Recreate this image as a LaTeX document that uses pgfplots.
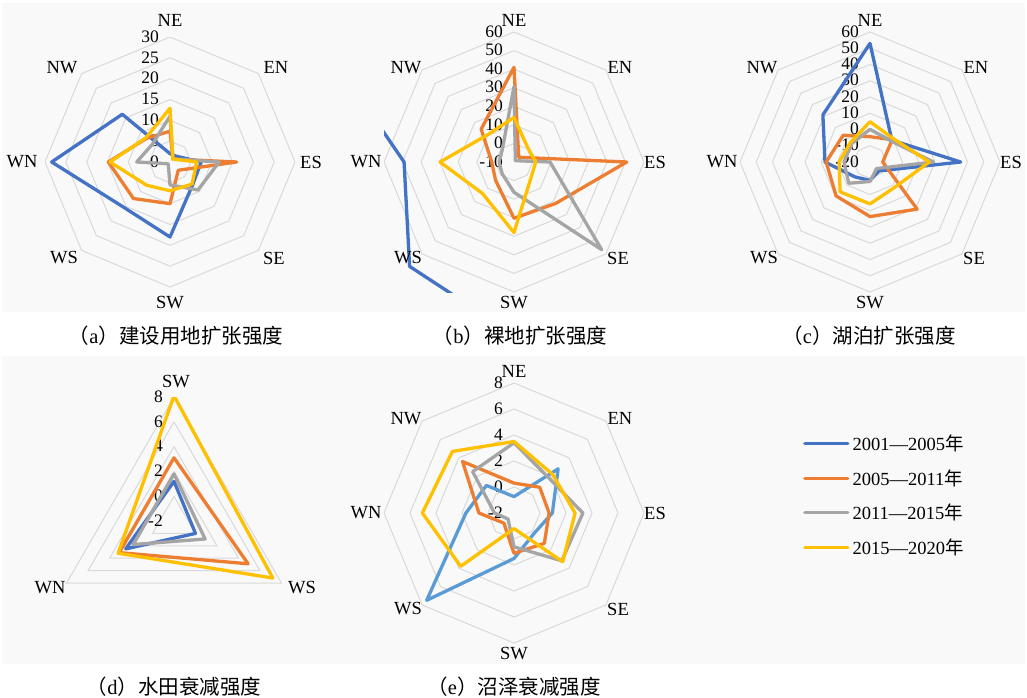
\documentclass[border=0pt]{standalone}
\usepackage{pgfplots}
\pgfplotsset{compat=1.18}
\usepackage{pgfplotstable}
\usepackage{fontspec}
\setmainfont{Liberation Serif}
\newfontfamily\cjk{Noto Sans CJK SC}
\definecolor{cA}{HTML}{4472C4}
\definecolor{cB}{HTML}{ED7D31}
\definecolor{cC}{HTML}{A5A5A5}
\definecolor{cD}{HTML}{FFC000}
\definecolor{cE}{HTML}{5B9BD5}
\definecolor{gridc}{HTML}{D9D9D9}
\definecolor{bgc}{HTML}{F9F9F9}
\newcommand\labfont{\fontsize{18.5}{18.5}\selectfont}
\newcommand\tickfont{\fontsize{17.5}{17.5}\selectfont}
\newcommand\capfont{\fontsize{20.5}{20.5}\selectfont}

\pgfplotstableread{
ang s1 s2 s3 s4
90 2 7.4 11 12.9
45 2 1 1 1
0 7.5 16 11.8 6.4
-45 7.7 2.8 9.5 7.5
-90 18 10 5.5 6.9
-135 15.5 12.4 0.6 7.9
180 28.4 14.8 8 14.4
135 16.2 8 6 8.2
90 2 7.4 11 12.9
}\dA
\pgfplotstableread{
ang s1 s2 s3 s4
90 200 41 30.6 14
45 210 -6.4 -9 0.6
0 200 50.7 9.4 1.7
-45 180 21.6 56.8 2.7
-90 83 20.3 6.3 28
-135 69.5 4 -1 14
180 49.2 2 -2 29.8
135 255 15 -1 10.5
90 200 41 30.6 14
}\dB
\pgfplotstableread{
ang s1 s2 s3 s4
90 53 -4.4 0.1 4.8
45 -1 -0.7 -1.7 0.3
0 35.8 -12.2 19 16.5
-45 -12.2 21 -14.3 1.8
-90 -8.7 13.6 -8 5.8
-135 -7 9.5 -1.5 6
180 7.7 7 -4 -1
135 21 3.3 -4 -3
90 53 -4.4 0.1 4.8
}\dC
\pgfplotstableread{
ang s1 s2 s3 s4
90 1.2 3.1 1.8 8.1
-30 0 4.9 0.9 7.2
210 2.5 3.1 1.8 3.2
90 1.2 3.1 1.8 8.1
}\dD
\pgfplotstableread{
ang s1 s2 s3 s4
90 -0.74 0.3 3.4 3.5
45 2.8 0.8 1.8 2.2
0 0.95 0.7 3.3 2.7
-45 0.2 1.3 3.2 3.3
-90 1.5 1.1 0.6 -0.8
-135 7.5 -0.9 -1.35 3.8
180 1.7 0.7 -0.5 5.05
135 1.0 3.6 2.5 4.7
90 -0.74 0.3 3.4 3.5
}\dE
\pgfplotstableread{
ang one
90 1
45 1
0 1
-45 1
-90 1
-135 1
180 1
135 1
90 1
}\octo
\pgfplotstableread{
ang one
90 1
-30 1
210 1
90 1
}\tri

\pgfplotsset{
  radar/.style={hide axis, scale only axis, anchor=center, clip mode=individual},
  sty/.style={line width=3.3pt, line join=round, line cap=round},
}
\newcommand{\rings}[2]{\pgfplotsinvokeforeach{#2}{\addplot[gridc, line width=1pt] table[x expr={##1*\thisrow{one}*cos(\thisrow{ang})}, y expr={##1*\thisrow{one}*sin(\thisrow{ang})}]{#1};}}
\newcommand{\ticks}[2]{\pgfplotsinvokeforeach{#2}{\node[anchor=east, xshift=-11pt, yshift=0.5pt, font=\tickfont, inner sep=0pt] at (axis cs:0,##1) {\pgfmathtruncatemacro\tmp{##1+(#1)}\tmp};}}
\newcommand{\radarplot}[4]{\addplot[#4] table[x expr={(\thisrow{#2}-(#3))*cos(\thisrow{ang})}, y expr={(\thisrow{#2}-(#3))*sin(\thisrow{ang})}]{#1};}
\newcommand{\lab}[3]{\node[font=\labfont, inner sep=0pt, xshift=#1pt, yshift=#2pt] at (axis cs:0,0) {#3};}
\newcommand{\octlabels}{%
\lab{0}{142}{NE}\lab{106}{95}{EN}\lab{141}{0}{ES}\lab{104}{-96}{SE}%
\lab{0}{-141}{SW}\lab{-106}{-96}{WS}\lab{-148}{0}{WN}\lab{-108}{94}{NW}}

\begin{document}
\begin{tikzpicture}[x=1pt,y=1pt]
\path[use as bounding box] (0pt,0pt) rectangle (1027pt,-698pt);
\fill[bgc] (2pt,-3pt) rectangle (1025pt,-312pt);
\fill[bgc] (2pt,-356pt) rectangle (1025pt,-664pt);

% (a)
\begin{axis}[radar, width=250pt, height=250pt, xmin=-30, xmax=30, ymin=-30, ymax=30, at={(170pt,-162pt)}]
\rings{\octo}{5,10,15,20,25,30}
\ticks{0}{0,5,10,15,20,25,30}
\radarplot{\dA}{s1}{0}{cA,sty}
\radarplot{\dA}{s2}{0}{cB,sty}
\radarplot{\dA}{s3}{0}{cC,sty}
\radarplot{\dA}{s4}{0}{cD,sty}
\octlabels
\end{axis}

% (b)
\begin{axis}[radar, width=260pt, height=260pt, xmin=-70, xmax=70, ymin=-70, ymax=70, at={(514pt,-162pt)}]
\rings{\octo}{10,20,30,40,50,60,70}
\ticks{-10}{0,10,20,30,40,50,60,70}
\radarplot{\dB}{s1}{-10}{cA,sty}
\radarplot{\dB}{s2}{-10}{cB,sty}
\radarplot{\dB}{s3}{-10}{cC,sty}
\radarplot{\dB}{s4}{-10}{cD,sty}
\octlabels
\end{axis}

% (c)
\begin{axis}[radar, width=260pt, height=260pt, xmin=-80, xmax=80, ymin=-80, ymax=80, at={(870pt,-162pt)}]
\rings{\octo}{10,20,30,40,50,60,70,80}
\ticks{-20}{0,10,20,30,40,50,60,70,80}
\radarplot{\dC}{s1}{-20}{cA,sty}
\radarplot{\dC}{s2}{-20}{cB,sty}
\radarplot{\dC}{s3}{-20}{cC,sty}
\radarplot{\dC}{s4}{-20}{cD,sty}
\octlabels
\end{axis}

% (d)
\begin{axis}[radar, width=248pt, height=248pt, xmin=-10, xmax=10, ymin=-10, ymax=10, at={(174pt,-521pt)}]
\rings{\tri}{2,4,6,8,10}
\ticks{-2}{0,2,4,6,8,10}
\radarplot{\dD}{s1}{-2}{cA,sty}
\radarplot{\dD}{s2}{-2}{cB,sty}
\radarplot{\dD}{s3}{-2}{cC,sty}
\radarplot{\dD}{s4}{-2}{cD,sty}
\lab{2}{139}{SW}\lab{-124}{-67}{WN}\lab{128}{-67}{WS}
\end{axis}

% (e)
\begin{axis}[radar, width=260pt, height=260pt, xmin=-10, xmax=10, ymin=-10, ymax=10, at={(514pt,-513pt)},
  legend style={at={(1.6,0.82)}, anchor=north west, draw=none, fill=none, font=\labfont, row sep=11.5pt, nodes={inner sep=3pt}},
  legend cell align=left,
  legend image code/.code={\draw[#1] (0pt,0pt) -- (43pt,0pt);}]
\addlegendimage{cA, line width=3.3pt, line cap=round}
\addlegendentry{2001—2005{\cjk 年}}
\addlegendimage{cB, line width=3.3pt, line cap=round}
\addlegendentry{2005—2011{\cjk 年}}
\addlegendimage{cC, line width=3.3pt, line cap=round}
\addlegendentry{2011—2015{\cjk 年}}
\addlegendimage{cD, line width=3.3pt, line cap=round}
\addlegendentry{2015—2020{\cjk 年}}
\rings{\octo}{2,4,6,8,10}
\ticks{-2}{0,2,4,6,8,10}
\radarplot{\dE}{s1}{-2}{cE,sty,forget plot}
\radarplot{\dE}{s2}{-2}{cB,sty,forget plot}
\radarplot{\dE}{s3}{-2}{cC,sty,forget plot}
\radarplot{\dE}{s4}{-2}{cD,sty,forget plot}
\octlabels
\end{axis}

% captions
\node[font=\capfont] at (176pt,-336pt) {{\cjk （}a{\cjk ）建设用地扩张强度}};
\node[font=\capfont] at (520pt,-336pt) {{\cjk （}b{\cjk ）裸地扩张强度}};
\node[font=\capfont] at (869pt,-336pt) {{\cjk （}c{\cjk ）湖泊扩张强度}};
\node[font=\capfont] at (174pt,-687pt) {{\cjk （}d{\cjk ）水田衰减强度}};
\node[font=\capfont] at (514pt,-687pt) {{\cjk （}e{\cjk ）沼泽衰减强度}};
\end{tikzpicture}
\end{document}
